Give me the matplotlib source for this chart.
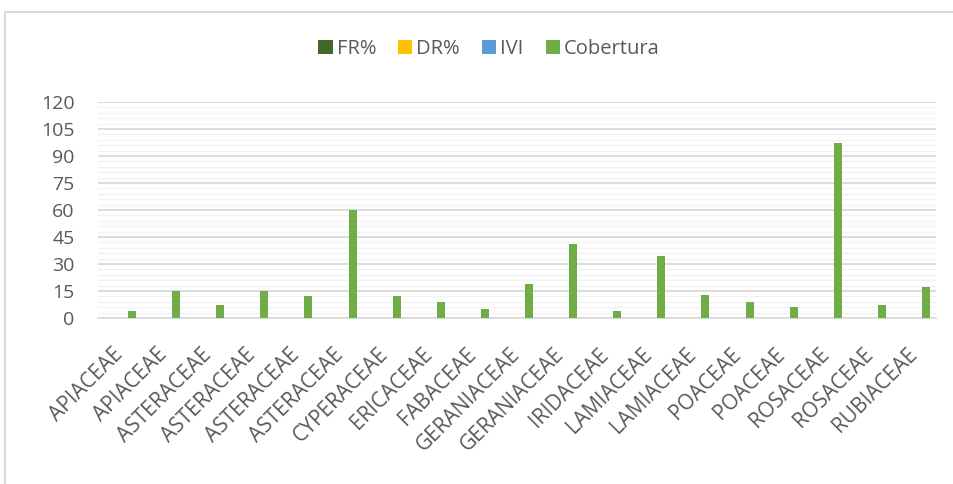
import numpy as np
import matplotlib
matplotlib.use("Agg")
from matplotlib import pyplot as plt
from matplotlib.patches import Rectangle
from matplotlib.ticker import MultipleLocator

familias = ['APIACEAE', 'APIACEAE', 'ASTERACEAE', 'ASTERACEAE', 'ASTERACEAE',
            'ASTERACEAE', 'CYPERACEAE', 'ERICACEAE', 'FABACEAE', 'GERANIACEAE',
            'GERANIACEAE', 'IRIDACEAE', 'LAMIACEAE', 'LAMIACEAE', 'POACEAE',
            'POACEAE', 'ROSACEAE', 'ROSACEAE', 'RUBIACEAE']
fr = [0] * 19
dr = [0] * 19
ivi = [0] * 19
cobertura = [4, 15, 7, 15, 12, 60, 12, 9, 5, 19, 41, 4, 34.5, 13, 9, 6, 97.5, 7, 17]

series = [('FR%', fr, '#43682b'), ('DR%', dr, '#ffc000'),
          ('IVI', ivi, '#5b9bd5'), ('Cobertura', cobertura, '#70ad47')]

plt.rcParams['font.family'] = ['Open Sans', 'DejaVu Sans']
txt = '#595959'

fig = plt.figure(figsize=(9.54, 4.84), dpi=100)
# chart frame like the spreadsheet export
fig.patches.append(Rectangle((5 / 954, -0.1), 1.1, 1 - 12 / 484 + 0.1,
                             transform=fig.transFigure, fill=False,
                             edgecolor='#d9d9d9', lw=1.5))

ax = fig.add_axes([98 / 954, 1 - 318 / 484, (936 - 98) / 954, (318 - 102) / 484])

x = np.arange(len(familias))
w = 8 / 44.1
for i, (name, vals, col) in enumerate(series):
    ax.bar(x + (i - 1.5) * w, vals, w, color=col, label=name, zorder=3)

ax.set_xlim(-0.5, len(familias) - 0.5)
ax.set_ylim(0, 120)
ax.yaxis.set_major_locator(MultipleLocator(15))
ax.yaxis.set_minor_locator(MultipleLocator(3))
ax.grid(axis='y', which='major', color='#d9d9d9', lw=1.3, zorder=1)
ax.grid(axis='y', which='minor', color='#f2f2f2', lw=1.0, zorder=0)
for s in ['top', 'right', 'left']:
    ax.spines[s].set_visible(False)
ax.spines['bottom'].set_color('#d9d9d9')
ax.spines['bottom'].set_linewidth(1.3)

ax.set_xticks(x)
ax.set_xticklabels(familias, rotation=45, ha='right', va='center',
                   rotation_mode='anchor', fontsize=15, color=txt)
ax.tick_params(axis='y', which='both', length=0, labelsize=14, labelcolor=txt, pad=17)
ax.tick_params(axis='x', length=0, pad=24)

fig.legend(loc='center', bbox_to_anchor=(489 / 954, 1 - 49 / 484), ncol=4,
           frameon=False, fontsize=14.5, labelcolor=txt, handlelength=0.7,
           handleheight=0.7, handletextpad=0.2, columnspacing=1.1)

fig.savefig('out.png', dpi=100)
